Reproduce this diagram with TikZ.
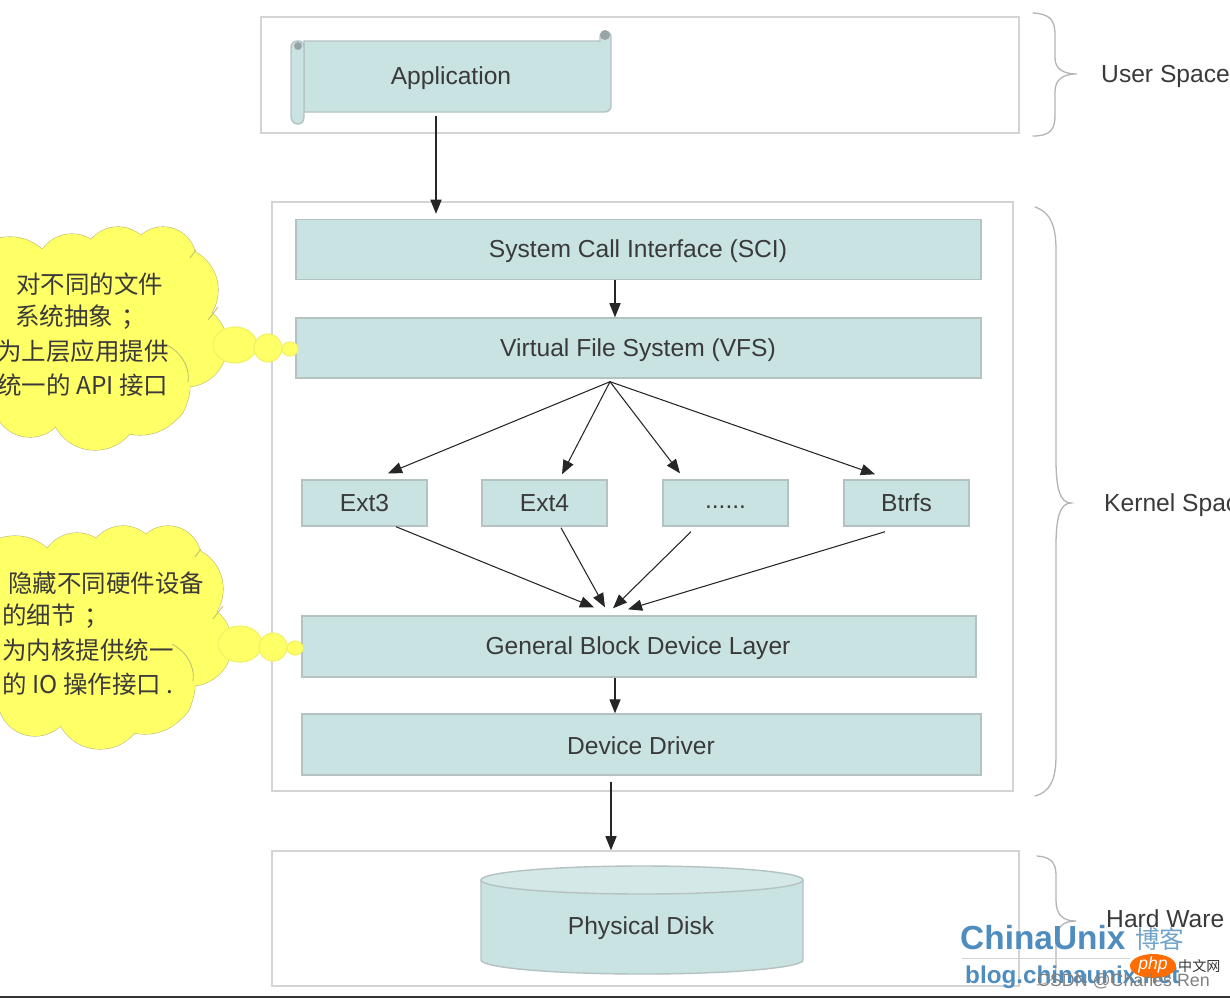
\documentclass[tikz,border=0pt]{standalone}
\usepackage{fontspec}
\setmainfont{Liberation Sans}
\newfontfamily\cjk{Noto Sans CJK SC}
\usetikzlibrary{arrows.meta}
\definecolor{boxfill}{HTML}{C9E2E2}
\definecolor{boxedge}{HTML}{B4C2C2}
\definecolor{frameline}{HTML}{D4D4D4}
\definecolor{bubble}{HTML}{FFFF66}
\definecolor{bubbleedge}{HTML}{BDBD70}
\definecolor{ink}{HTML}{3A3A3A}
\definecolor{wmblue}{HTML}{4F8DBE}
\tikzset{
  x=0.03cm,y=-0.03cm,
  lab/.style={font=\fontsize{21}{24}\selectfont,text=ink,inner sep=0pt},
  cjklab/.style={font=\cjk\fontsize{20.9}{24}\selectfont,text=ink,inner sep=0pt,anchor=west},
  tealbox/.style={draw=boxedge,line width=1.2pt,fill=boxfill,inner sep=0pt,font=\fontsize{21}{24}\selectfont,text=ink},
  frame/.style={draw=frameline,line width=1.3pt,fill=white,inner sep=0pt},
  brace/.style={draw=frameline!85!black,line width=1.1pt,line cap=round},
  conn/.style={draw=black!85,line width=0.9pt,-{Triangle[length=12pt,width=9.5pt]}},
}
\newcommand{\puff}{%
  \foreach \a/\b/\r in {10/285/48,72/270/36,118/262/35,163/260/33,175/290/43,185/345/42,140/385/50,160/398/27,95/405/45,30/400/37,-8/350/60}{
    \draw[bubbleedge,line width=1pt] (\a,\b) circle[radius=\r*0.03cm];}
  \foreach \a/\b/\r in {10/285/48,72/270/36,118/262/35,163/260/33,175/290/43,185/345/42,140/385/50,160/398/27,95/405/45,30/400/37,-8/350/60,90/330/85}{
    \fill[bubble] (\a,\b) circle[radius=\r*0.03cm];}
  \draw[bubbleedge,line width=0.7pt] (167,345) .. controls (180,352) and (190,365) .. (188,382);
  \draw[bubbleedge,line width=0.7pt] (208,320) -- (218,307);
  \draw[bubbleedge,line width=0.7pt] (196,250) -- (190,258);
  \draw[bubble!80!bubbleedge,line width=1pt,fill=bubble] (235,345) ellipse[x radius=22*0.03cm,y radius=18*0.03cm];
  \draw[bubble!80!bubbleedge,line width=1pt,fill=bubble] (268,348) circle[radius=14*0.03cm];
  \draw[bubble!80!bubbleedge,line width=1pt,fill=bubble] (290,349) ellipse[x radius=8*0.03cm,y radius=7*0.03cm];
}
\begin{document}
\begin{tikzpicture}
\useasboundingbox (0,0) rectangle (1230,998);
\begin{scope}
\clip (0,0) rectangle (1230,998);
\fill[white] (0,0) rectangle (1230,998);

% frames
\node[frame,minimum width=758*0.03cm,minimum height=116*0.03cm] (userframe) at (640,75) {};
\node[frame,minimum width=741*0.03cm,minimum height=589*0.03cm] (kernelframe) at (642.5,496.5) {};
\node[frame,minimum width=747*0.03cm,minimum height=135*0.03cm] (hwframe) at (645.5,918.5) {};

% braces
\draw[brace] (1033,13) .. controls (1050,14) and (1055,20) .. (1055,35) -- (1055,58) .. controls (1055,68) and (1062,74) .. (1077,74) .. controls (1062,74) and (1055,80) .. (1055,92) -- (1055,115) .. controls (1055,130) and (1050,136) .. (1033,136);
\draw[brace] (1035,207) .. controls (1050,212) and (1056,225) .. (1056,250) -- (1056,460) .. controls (1056,488) and (1060,503) .. (1071,503) .. controls (1060,503) and (1056,518) .. (1056,545) -- (1056,755) .. controls (1056,780) and (1050,792) .. (1035,796);
\draw[brace] (1037,856) .. controls (1050,857) and (1056,862) .. (1056,875) -- (1056,900) .. controls (1056,914) and (1062,921) .. (1076,921) .. controls (1062,921) and (1056,928) .. (1056,942) -- (1056,965) .. controls (1056,978) and (1050,984) .. (1037,985);

% side labels
\node[lab,anchor=west] (userlab) at (1101,76) {User Space};
\node[lab,anchor=west] (kernellab) at (1104,505) {Kernel Space};
\node[lab,anchor=west] (hwlab) at (1106,919) {Hard Ware};

% application scroll
\draw[draw=boxedge,line width=1.2pt,fill=boxfill] (304,41) -- (600,41) -- (600,36) .. controls (600,30) and (611,30) .. (611,37) -- (611,106) .. controls (611,110) and (608,112) .. (604,112) -- (304,112) -- cycle;
\draw[draw=boxedge,line width=1.2pt,fill=boxfill] (291,48) .. controls (291,43) and (294,41) .. (298,41) .. controls (302,41) and (304,43) .. (304,48) -- (304,116) .. controls (304,121) and (302,124) .. (298,124) .. controls (294,124) and (291,121) .. (291,116) -- cycle;
\fill[boxedge!85!black] (298,46) circle[radius=4*0.03cm];
\fill[boxedge!85!black] (605,35) circle[radius=5*0.03cm];
\node[lab] (app) at (451,78) {Application};
\coordinate (appout) at (436,116);

% layers
\node[tealbox,minimum width=685*0.03cm,minimum height=60*0.03cm] (sci) at (638.5,249.5) {};
\node[lab] (scit) at (638,251) {System Call Interface (SCI)};
\node[tealbox,minimum width=685*0.03cm,minimum height=60*0.03cm] (vfs) at (638.5,348) {};
\node[lab] (vfst) at (638,350) {Virtual File System (VFS)};
\node[tealbox,minimum width=125*0.03cm,minimum height=46*0.03cm] (ext3) at (364.5,503) {Ext3};
\node[tealbox,minimum width=125*0.03cm,minimum height=46*0.03cm] (ext4) at (544.5,503) {Ext4};
\node[tealbox,minimum width=125*0.03cm,minimum height=46*0.03cm] (dots) at (725.5,503) {\raisebox{-10pt}{......}};
\node[tealbox,minimum width=125*0.03cm,minimum height=46*0.03cm] (btrfs) at (906.5,503) {Btrfs};
\node[tealbox,minimum width=674*0.03cm,minimum height=61*0.03cm] (gbdl) at (639,646.5) {};
\node[lab] (gbdlt) at (638,648) {General Block Device Layer};
\node[tealbox,minimum width=679*0.03cm,minimum height=61*0.03cm] (drv) at (641.5,744.5) {};
\node[lab] (drvt) at (641,746) {Device Driver};

% disk
\draw[draw=boxedge,line width=1.2pt,fill=boxfill] (481,880) -- (481,960) arc[start angle=180,end angle=360,x radius=161*0.03cm,y radius=14*0.03cm] -- (803,880);
\draw[draw=boxedge,line width=1.2pt,fill=boxfill!80!white] (642,880) ellipse[x radius=161*0.03cm,y radius=14*0.03cm];
\node[lab] (disk) at (641,928) {Physical Disk};

% connectors
\coordinate (vfsfan) at ([xshift=-.855cm,yshift=-.09cm]vfs.south);
\draw[conn,shorten >=5*0.03cm] (appout) -- (appout |- sci.north);
\draw[conn] (sci.south -| 615,0) -- (vfs.north -| 615,0);
\draw[conn] (vfsfan) -- ([xshift=.705cm,yshift=.18cm]ext3.north);
\draw[conn] (vfsfan) -- ([xshift=.525cm,yshift=.15cm]ext4.north);
\draw[conn] (vfsfan) -- ([xshift=-1.365cm,yshift=.18cm]dots.north);
\draw[conn] (vfsfan) -- ([xshift=-.945cm,yshift=.15cm]btrfs.north);
\draw[conn] ([xshift=.945cm]ext3.south) -- ([xshift=-1.35cm,yshift=.24cm]gbdl.north);
\draw[conn] ([xshift=.495cm,yshift=-.03cm]ext4.south) -- ([xshift=-1.02cm,yshift=.24cm]gbdl.north);
\draw[conn] ([xshift=-1.035cm,yshift=-.15cm]dots.south) -- ([xshift=-.78cm,yshift=.21cm]gbdl.north);
\draw[conn] ([xshift=-.645cm,yshift=-.15cm]btrfs.south) -- ([xshift=-.33cm,yshift=.18cm]gbdl.north);
\draw[conn] (gbdl.south -| 615,0) -- (drv.north -| 615,0);
\draw[conn] ([yshift=-.18cm]drv.south -| 611,0) -- (hwframe.north -| 611,0);

% clouds
\puff
\node[cjklab] (c1a) at (16,284) {对不同的文件};
\node[cjklab] (c1b) at (15,317) {系统抽象\hspace{0.35em}；};
\node[cjklab] (c1c) at (-3,351) {为上层应用提供};
\node[cjklab] (c1d) at (-3,385) {统一的 API 接口};
\begin{scope}[shift={(5,299)}]
\puff
\end{scope}
\node[cjklab] (c2a) at (8,583) {隐藏不同硬件设备};
\node[cjklab] (c2b) at (2,616) {的细节\hspace{0.35em}；};
\node[cjklab] (c2c) at (2,650) {为内核提供统一};
\node[cjklab] (c2d) at (2,684) {的 IO 操作接口 .};

% watermarks
\node[inner sep=0pt,anchor=west,text=wmblue,font=\bfseries\fontsize{28.5}{30}\selectfont] (wm1) at (960,938) {ChinaUnix};
\node[inner sep=0pt,anchor=west,text=wmblue!80!white,font=\cjk\fontsize{21}{24}\selectfont] (wm2) at (1135,939) {博客};
\coordinate (rulea) at (962,958);
\coordinate (ruleb) at (1130,958);
\draw[frameline,line width=0.8pt] (rulea) -- (ruleb);
\node[inner sep=0pt,anchor=west,text=wmblue,font=\bfseries\fontsize{20.7}{24}\selectfont] (wm3) at (965,977) {blog.chinaunix.net};
\fill[orange!85!red] (1153,966) ellipse[x radius=23*0.03cm,y radius=12*0.03cm];
\node[inner sep=0pt,text=white,font=\itshape\fontsize{15}{16}\selectfont] (wm4) at (1153,965) {php};
\node[inner sep=0pt,anchor=west,text=black!80,font=\cjk\fontsize{12}{14}\selectfont] (wm5) at (1178,966) {中文网};
\node[inner sep=0pt,anchor=west,text=black!50,font=\fontsize{15.2}{18}\selectfont] (wm6) at (1037,981) {CSDN @Charles Ren};

% bottom edge
\fill[black!80] (0,996) rectangle (1230,998);
\end{scope}
\end{tikzpicture}
\end{document}
